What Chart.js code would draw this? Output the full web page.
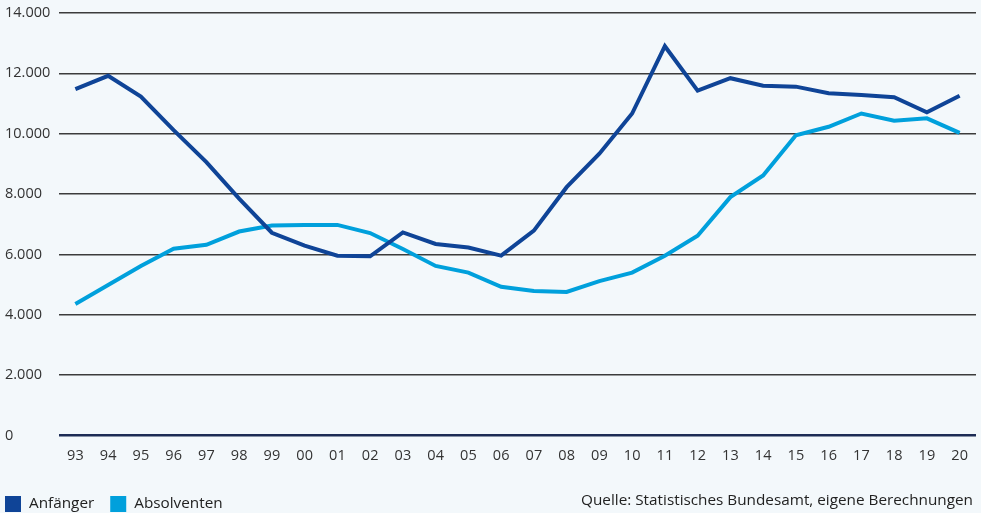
<!DOCTYPE html>
<html lang="de">
<head>
<meta charset="utf-8">
<title>Anfänger und Absolventen</title>
<script src="https://cdn.jsdelivr.net/npm/chart.js@4.4.1/dist/chart.umd.min.js"></script>
<style>
  html, body { margin: 0; padding: 0; background: #f3f8fb; }
  #wrap { width: 981px; height: 513px; position: relative; }
</style>
</head>
<body>
<div id="wrap"><canvas id="chart"></canvas></div>
<script>
// Jahre (zweistellig) und Werte
const years = ['93', '94', '95', '96', '97', '98', '99', '00', '01', '02', '03', '04', '05', '06',
  '07', '08', '09', '10', '11', '12', '13', '14', '15', '16', '17', '18', '19', '20'];
const anfaenger = [11480, 11920, 11230, 10120, 9060, 7850, 6720, 6290, 5960, 5940, 6730, 6350, 6230, 5960,
  6790, 8230, 9340, 10670, 12900, 11430, 11840, 11590, 11560, 11340, 11280, 11210, 10710, 11260];
const absolventen = [4360, 4990, 5620, 6190, 6320, 6760, 6960, 6980, 6980, 6710, 6180, 5620, 5400, 4930,
  4790, 4760, 5120, 5400, 5960, 6620, 7900, 8620, 9950, 10230, 10670, 10430, 10510, 10030];
const yTicks = [0, 2000, 4000, 6000, 8000, 10000, 12000, 14000];
const sourceText = 'Quelle: Statistisches Bundesamt, eigene Berechnungen';

const DARK = '#0f4497';
const LIGHT = '#00a0dc';
const FONT = '"Open Sans", Lato, sans-serif';
const FSIZE = 14.5;

// Legende links unten, Quellenangabe rechts unten
const footerPlugin = {
  id: 'footer',
  afterDraw(chart) {
    const c = chart.ctx;
    const y = 504;
    c.save();
    c.font = '15.3px ' + FONT;
    c.fillStyle = '#222';
    c.textBaseline = 'middle';
    let x = 5;
    chart.data.datasets.forEach(ds => {
      c.fillStyle = ds.borderColor;
      c.fillRect(x, y - 8, 16, 16);
      c.fillStyle = '#222';
      c.textAlign = 'left';
      c.fillText(ds.label, x + 24, y);
      x += 24 + c.measureText(ds.label).width + 16;
    });
    c.textAlign = 'right';
    c.fillText(sourceText, chart.width - 8, 501);
    c.restore();
  }
};

const fmt = v => v === 0 ? '0' : v.toLocaleString('de-DE');

new Chart(document.getElementById('chart'), {
  type: 'line',
  data: {
    labels: years,
    datasets: [
      { label: 'Anfänger', data: anfaenger, borderColor: DARK, backgroundColor: DARK,
        borderWidth: 4, pointRadius: 0, tension: 0 },
      { label: 'Absolventen', data: absolventen, borderColor: LIGHT, backgroundColor: LIGHT,
        borderWidth: 4, pointRadius: 0, tension: 0 }
    ]
  },
  options: {
    responsive: true,
    maintainAspectRatio: false,
    animation: false,
    layout: { padding: { left: 5, right: 5, top: 13, bottom: 44 } },
    scales: {
      x: {
        offset: true,
        grid: { display: false },
        border: { display: false },
        ticks: { color: '#333', font: { family: FONT, size: FSIZE }, padding: 4, maxRotation: 0, autoSkip: false }
      },
      y: {
        min: 0,
        max: 14000,
        afterBuildTicks: axis => { axis.ticks = yTicks.map(v => ({ value: v })); },
        afterFit: axis => { axis.width = 54; },
        border: { display: false },
        grid: {
          drawTicks: false,
          color: c => c.tick && c.tick.value === 0 ? '#1d2c55' : '#3c3c3c',
          lineWidth: c => c.tick && c.tick.value === 0 ? 2.5 : 1.5
        },
        ticks: {
          color: '#333',
          font: { family: FONT, size: FSIZE },
          crossAlign: 'far',
          padding: 0,
          callback: v => fmt(v)
        }
      }
    },
    plugins: {
      legend: { display: false },
      tooltip: { enabled: false }
    }
  },
  plugins: [footerPlugin]
});
</script>
</body>
</html>
